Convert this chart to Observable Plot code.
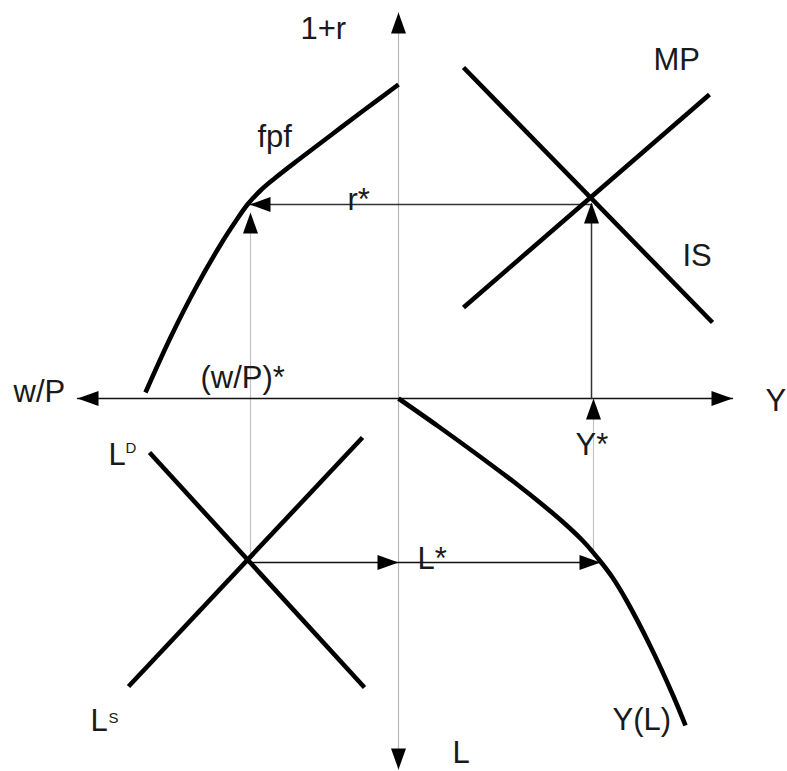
<!DOCTYPE html>
<html>
<head>
<meta charset="utf-8">
<script src="https://cdn.jsdelivr.net/npm/d3@7"></script>
<script src="https://cdn.jsdelivr.net/npm/@observablehq/plot@0.6"></script>
<style>
  html, body { margin: 0; padding: 0; background: #fff; }
  #chart svg { display: block; }
</style>
</head>
<body>
<div id="chart"></div>
<script>
// Schematic coordinates: origin at the axes crossing, x to the right, y upward.
// Production function (fpf), upper-left quadrant
const fpfX = [-253, -228, -202, -176, -163, -151, -138, -124, -101, -68, -35, 0];
const fpfY = [6, 61, 112, 157, 177, 194, 208, 220, 238, 263, 288, 314];
// Y(L) curve, lower-right quadrant
const ylX = [0, 40, 80, 120, 145, 165, 185, 202, 214, 228, 252, 275, 287];
const ylY = [0, -28, -57, -87, -107, -124, -143, -163, -179, -202, -248, -298, -327];
// IS and MP lines, upper-right quadrant
const isX = [65, 314], isY = [331, 76];
const mpX = [65, 311], mpY = [91, 304];
// Labour demand / supply, lower-left quadrant
const ldX = [-249, -34], ldY = [-54, -289];
const lsX = [-270, -36], lsY = [-288, -39];
// Equilibrium values
const rStar = 194, yStar = 193, lStarY = -164, wpStar = -148, yStarLow = 195, lStarX = 202;
// Arrow tips and directions (degrees clockwise from up)
const arrowX = [-321, 334, 0, 0, -149, 193, -148, 0, 202, 195];
const arrowY = [0, 0, 386, -371, 194, 196, 186, -164, -164, 0];
const arrowDir = [270, 90, 0, 180, 270, 0, 0, 90, 90, 0];
// Labels
const labelText = ["1+r", "fpf", "r*", "MP", "IS", "w/P", "(w/P)*", "Y", "Y*", "L", "L", "L*", "Y(L)", "L"];
const labelX = [-98, -141, -51, 255, 284, -385, -198, 367, 177, -290, -308, 19, 214, 54];
const labelY = [369, 261, 198, 338, 142, 6, 20, -3, -47, -57, -323, -161, -322, -355];
const supText = ["D", "S"];
const supX = [-273, -290];
const supY = [-50, -320];

const idx = (a) => a.map((_, i) => i);
const pts = (xs, ys) => xs.map((x, i) => ({x, y: ys[i]}));

const triangleShape = {
  draw(context, l) {
    const w = 7.5;
    context.moveTo(0, 0);
    context.lineTo(-w, l);
    context.lineTo(w, l);
    context.closePath();
  }
};

const arrows = idx(arrowX).map(i => ({x: arrowX[i], y: arrowY[i], dir: arrowDir[i]}));
const labels = idx(labelText).map(i => ({t: labelText[i], x: labelX[i], y: labelY[i]}));
const sups = idx(supText).map(i => ({t: supText[i], x: supX[i], y: supY[i]}));

const font = "Liberation Sans, Arial, Helvetica, sans-serif";
const thick = {stroke: "#000", strokeWidth: 4.6, strokeLinecap: "butt"};

const chart = Plot.plot({
  width: 787,
  height: 771,
  margin: 0,
  x: {domain: [-398, 389], axis: null},
  y: {domain: [-373, 398], axis: null},
  marks: [
    // light projection lines
    Plot.line(pts([0, 0], [386, -371]), {x: "x", y: "y", stroke: "#b8b8b8", strokeWidth: 1.2}),
    Plot.line(pts([wpStar, wpStar], [lStarY + 3, 170]), {x: "x", y: "y", stroke: "#c4c4c4", strokeWidth: 1.2}),
    Plot.line(pts([yStarLow, yStarLow], [-158, -15]), {x: "x", y: "y", stroke: "#c4c4c4", strokeWidth: 1.2}),
    // horizontal axis
    Plot.line(pts([-321, 334], [0, 0]), {x: "x", y: "y", stroke: "#111", strokeWidth: 1.3}),
    // equilibrium guides
    Plot.line(pts([yStar, -149], [rStar, rStar]), {x: "x", y: "y", stroke: "#333", strokeWidth: 1.5}),
    Plot.line(pts([yStar, yStar], [0, rStar]), {x: "x", y: "y", stroke: "#333", strokeWidth: 1.5}),
    Plot.line(pts([-151, lStarX], [lStarY, lStarY]), {x: "x", y: "y", stroke: "#111", strokeWidth: 1.3}),
    // curves
    Plot.line(pts(fpfX, fpfY), {x: "x", y: "y", curve: "catmull-rom", ...thick}),
    Plot.line(pts(ylX, ylY), {x: "x", y: "y", curve: "catmull-rom", ...thick}),
    Plot.line(pts(isX, isY), {x: "x", y: "y", ...thick}),
    Plot.line(pts(mpX, mpY), {x: "x", y: "y", ...thick}),
    Plot.line(pts(ldX, ldY), {x: "x", y: "y", ...thick}),
    Plot.line(pts(lsX, lsY), {x: "x", y: "y", ...thick}),
    // arrowheads
    Plot.vector(arrows, {x: "x", y: "y", rotate: "dir", length: 21, anchor: "start",
      shape: triangleShape, fill: "#000", stroke: "none"}),
    // labels
    Plot.text(labels, {x: "x", y: "y", text: "t", textAnchor: "start", fontSize: 31,
      fontFamily: font, fill: "#1a1a1a"}),
    Plot.text(sups, {x: "x", y: "y", text: "t", textAnchor: "start", fontSize: 15,
      fontFamily: font, fill: "#1a1a1a"})
  ]
});
document.getElementById("chart").appendChild(chart);
</script>
</body>
</html>
